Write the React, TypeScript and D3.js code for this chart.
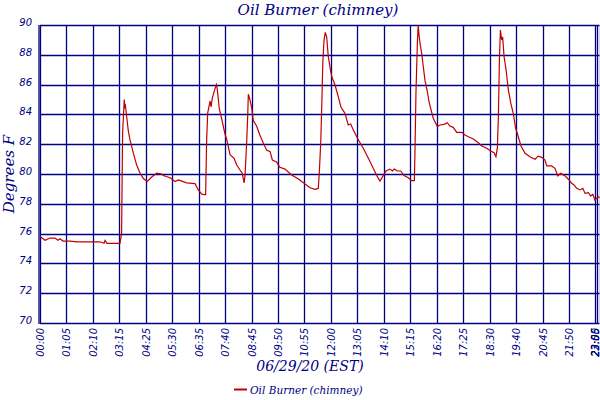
import React from "react";
import * as d3 from "d3";

// sample index (5-minute samples) and temperature (°F)
const sampleIdx = [
  0, 2.5, 4.9, 7.4, 8.8, 9.8, 11.3, 14.7, 18.2, 29.5, 31.5, 32, 32.9, 39.3, 40.1, 40.6, 41.4, 41.8, 41.9, 43.4,
  44.2, 45.9, 47.5, 49.2, 50.8, 52.7, 54.9, 57.4, 59.8, 60.6, 63.9, 66.4, 68.0, 72.1, 76.2, 77.8, 79.5, 81.4,
  81.9, 82.4, 83.6, 84.1, 84.7, 85.5, 86.7, 87.1, 88.1, 89.3, 90.9, 91.8, 93.4, 95.4, 96.7, 98.3, 99.4, 100.3,
  100.8, 101.6, 102.1, 102.4, 103.2, 104.1, 104.8, 106.5, 108.1, 109.8, 111.4, 113.1, 114.2, 116.3, 117.9,
  120.4, 123.7, 127.0, 130.3, 132.7, 135.2, 136.8, 137.3, 138.0, 138.5, 139.0, 139.6, 140.2, 140.9, 141.7,
  142.9, 143.4, 145.0, 146.6, 147.9, 149.9, 151.5, 152.7, 154.0, 156.5, 158.9, 161.4, 163.8, 165.8, 167.1,
  168.7, 170.1, 172.0, 173.2, 174.1, 175.6, 177.3, 178.9, 181.0, 182.7, 184.0, 184.3, 184.8, 185.5, 185.9,
  186.3, 186.8, 187.6, 188.4, 189.2, 190.4, 191.2, 192.2, 193.3, 194.5, 195.3, 196.6, 198.6, 200.2, 201.5,
  203.1, 204.8, 207.3, 208.9, 210.5, 213.0, 215.4, 217.1, 219.6, 221.5, 223.2, 224.1, 224.8, 225.3, 225.8,
  226.3, 226.9, 227.4, 228.1, 229.1, 230.2, 231.4, 232.6, 233.8, 235.1, 236.4, 238.4, 240.8, 243.3, 244.9,
  246.6, 248.2, 249.1, 251.5, 253.1, 254.5, 255.9, 258.1, 259.7, 261.3, 262.5, 263.8, 265.4, 266.8, 267.9,
  269.5, 270.7, 271.7, 272.8, 273.6, 274.4, 275,
];
const tempF = [
  75.8, 75.55, 75.7, 75.7, 75.55, 75.65, 75.5, 75.5, 75.45, 75.45, 75.35, 75.55, 75.35, 75.35, 76.0, 82.7, 85.0, 84.4, 84.7, 82.9,
  82.3, 81.4, 80.6, 80.05, 79.7, 79.5, 79.8, 80.05, 80.0, 79.9, 79.75, 79.5, 79.6, 79.4, 79.35, 78.93, 78.65, 78.6,
  82.2, 84.07, 84.9, 84.5, 85.1, 85.5, 86.0, 85.75, 84.4, 83.7, 82.7, 82.3, 81.3, 81.05, 80.6, 80.27, 80.05, 79.4,
  79.93, 82.2, 83.96, 85.35, 84.97, 84.4, 83.6, 83.2, 82.6, 82.06, 81.6, 81.5, 80.94, 80.8,
  80.45, 80.33, 79.93, 79.66, 79.33, 79.08, 78.97, 79.03, 80.15, 82.17, 84.63, 87.43, 88.99, 89.5, 89.2, 87.87,
  86.87, 86.53, 85.97, 85.19, 84.5, 84.07, 83.29, 83.36, 82.96, 82.28, 81.73, 81.05, 80.38, 79.82, 79.53,
  79.9, 80.2, 80.33, 80.2, 80.33, 80.2, 80.2, 79.9, 79.75, 79.55, 79.55, 81.5, 85.52, 88.88, 90.0,
  89.3, 88.77, 88.1, 87.2, 86.3, 85.52, 84.85, 84.3, 83.74, 83.4, 83.18, 83.29, 83.33, 83.44, 83.22,
  83.13, 82.8, 82.8, 82.62, 82.5, 82.35, 82.1, 81.88, 81.73, 81.54, 81.43, 81.16, 81.73, 83.85, 87.65,
  89.66, 88.99, 89.2, 87.87, 86.98, 85.64, 84.75, 84.07, 83.07, 82.5, 81.88, 81.39, 81.16, 80.99, 81.2,
  81.12, 80.94, 80.54, 80.54, 80.38, 79.87, 80.05, 79.87, 79.65, 79.38, 79.26, 79.04, 78.93, 79.04, 78.7,
  78.75, 78.52, 78.64, 78.25, 78.36, 78.48, 78.4,
];

const yTicks = [70, 72, 74, 76, 78, 80, 82, 84, 86, 88, 90];
const xTickLabels = [
  "00:00", "01:05", "02:10", "03:15", "04:25", "05:30", "06:35", "07:40", "08:45", "09:50", "10:55",
  "12:00", "13:05", "14:10", "15:15", "16:20", "17:25", "18:30", "19:40", "20:45", "21:50", "22:55",
  "23:00", "23:05",
];
const xTickSample = [
  0, 13, 26, 39, 52, 65, 78, 91, 104, 117, 130, 143, 156, 169, 182, 195, 208, 221, 234, 247, 260, 273, 274, 275,
];

const title = "Oil Burner (chimney)";
const xTitle = "06/29/20 (EST)";
const yTitle = "Degrees F";
const seriesName = "Oil Burner (chimney)";

export default function App() {
  const W = 600, H = 400;
  const left = 40, right = 599.5, top = 25, bottom = 323;
  const x = d3.scaleLinear().domain([0, 275]).range([left, right]);
  const y = d3.scaleLinear().domain([70, 90]).range([bottom, top]);
  const navy = "#000080";
  const red = "#c00000";
  const pts: [number, number][] = sampleIdx.map((s, i) => [x(s), y(tempF[i])]);
  const line = d3.line();
  const serif = "'DejaVu Serif', serif";
  const sans = "'DejaVu Sans', sans-serif";

  return (
    <svg width={W} height={H} style={{ position: "absolute", left: 0, top: 0, background: "#fff" }}>
      <rect x={0} y={0} width={W} height={H} fill="#fff" />
      <text x={318} y={15} textAnchor="middle" fontFamily={serif} fontStyle="italic" fontSize={15} fill={navy}>
        {title}
      </text>
      {/* horizontal grid */}
      {yTicks.map((t) => (
        <line key={"h" + t} x1={left} x2={right} y1={Math.round(y(t)) + 0.5} y2={Math.round(y(t)) + 0.5} stroke={navy} strokeWidth={1.3} />
      ))}
      {/* vertical grid */}
      {xTickSample.map((s, i) => (
        <line key={"v" + i} x1={Math.round(x(s)) + 0.5} x2={Math.round(x(s)) + 0.5} y1={top} y2={bottom} stroke={navy} strokeWidth={1.3} />
      ))}
      <line x1={39} x2={39} y1={top} y2={bottom + 1} stroke={navy} strokeWidth={1.3} />
      {/* y tick labels */}
      {yTicks.map((t) => (
        <text key={"yl" + t} x={32} y={y(t) + 1} textAnchor="end" fontFamily={sans} fontStyle="italic" fontSize={10} fill={navy}>
          {t}
        </text>
      ))}
      {/* x tick labels */}
      {xTickSample.map((s, i) => (
        <text
          key={"xl" + i}
          transform={`translate(${Math.min(x(s) + 4, 599)},${bottom + 5}) rotate(-90)`}
          textAnchor="end"
          fontFamily={sans}
          fontStyle="italic"
          fontSize={10}
          fill={navy}
        >
          {xTickLabels[i]}
        </text>
      ))}
      <text x={310} y={371} textAnchor="middle" fontFamily={serif} fontStyle="italic" fontSize={14} fill={navy}>
        {xTitle}
      </text>
      <text transform={`translate(14,174) rotate(-90)`} textAnchor="middle" fontFamily={serif} fontStyle="italic" fontSize={15} fill={navy}>
        {yTitle}
      </text>
      <path d={line(pts) || ""} fill="none" stroke={red} strokeWidth={1.2} strokeLinejoin="miter" />
      {/* legend */}
      <line x1={234} x2={247} y1={389.5} y2={389.5} stroke={red} strokeWidth={2} />
      <text x={250} y={393.5} fontFamily={serif} fontStyle="italic" fontSize={10.5} fill={navy}>
        {seriesName}
      </text>
    </svg>
  );
}
